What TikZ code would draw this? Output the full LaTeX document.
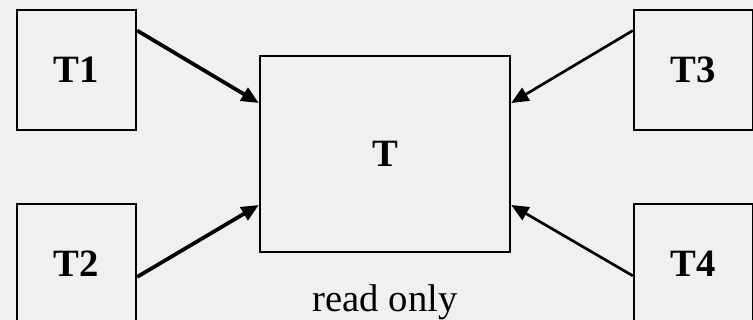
\documentclass[tikz,border=0pt]{standalone}
\usepackage{fontspec}
\setmainfont{Liberation Serif}
\usetikzlibrary{arrows.meta, positioning}

\begin{document}
\begin{tikzpicture}[
    x=0.75pt, y=-0.75pt,
    box/.style={draw, line width=1.8pt, inner sep=0pt, font=\fontsize{29}{31}\selectfont\bfseries},
    small/.style={box, minimum width=89.25pt, minimum height=90pt},
    feed/.style={-{Triangle[length=13pt,width=11pt]}, line width=2.8pt},
    feedthin/.style={feed, line width=2pt}
]
% Background
\fill[black!6] (0,0) rectangle (753,320);
\useasboundingbox (0,0) rectangle (753,320);

% Tables
\node[small] (t1) at (76.5,70) {T1};
\node[small] (t2) at (76.5,264) {T2};
\node[small] (t3) at (693.5,70) {T3};
\node[small] (t4) at (693.5,264) {T4};
\node[box, minimum width=187.5pt, minimum height=147pt] (t) at (385,154) {T};
\node[below=20pt of t, font=\fontsize{29}{31}\selectfont] (ro) {read only};

% Reads
\draw[feed] (t1.33) -- (t.158);
\draw[feed] (t2.-12) -- (t.-158);
\draw[feedthin] (t3.147) -- (t.22);
\draw[feedthin] (t4.191) -- (t.-22);

\end{tikzpicture}
\end{document}
